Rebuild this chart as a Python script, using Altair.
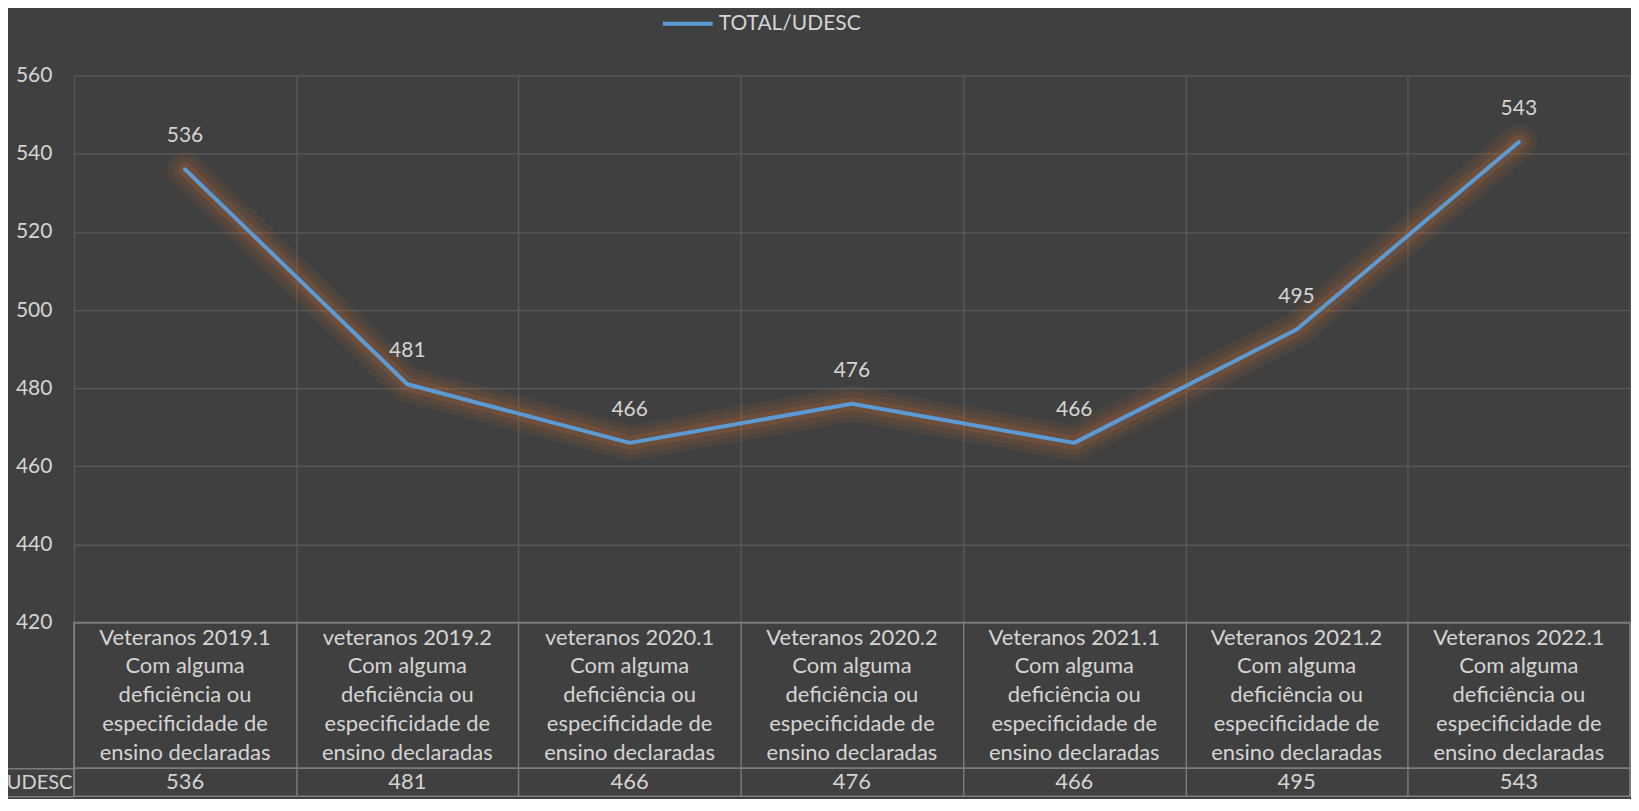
import altair as alt
import pandas as pd

# ---- data ----
categories = [
    "Veteranos 2019.1\nCom alguma\ndeficiência ou\nespecificidade de\nensino declaradas",
    "veteranos 2019.2\nCom alguma\ndeficiência ou\nespecificidade de\nensino declaradas",
    "veteranos 2020.1\nCom alguma\ndeficiência ou\nespecificidade de\nensino declaradas",
    "Veteranos 2020.2\nCom alguma\ndeficiência ou\nespecificidade de\nensino declaradas",
    "Veteranos 2021.1\nCom alguma\ndeficiência ou\nespecificidade de\nensino declaradas",
    "Veteranos 2021.2\nCom alguma\ndeficiência ou\nespecificidade de\nensino declaradas",
    "Veteranos 2022.1\nCom alguma\ndeficiência ou\nespecificidade de\nensino declaradas",
]
values = [536, 481, 466, 476, 466, 495, 543]
series_name = "TOTAL/UDESC"
row_label = "UDESC"
y_ticks = [420, 440, 460, 480, 500, 520, 540, 560]

# ---- style ----
BG = "#404040"
TXT = "#d4d4d4"
GRID = "#585858"
TBL = "#7d7d7d"
LINE = "#5b9bd5"
GLOW = "#ed7d31"
FONT = "Lato"
FS = 21
W = 1559

df = pd.DataFrame({
    "categoria": categories,
    "valor": values,
    "serie": [series_name] * len(values),
    "linha": [row_label] * len(values),
})

def xenc(color):
    return alt.X(
        "categoria:N",
        sort=categories,
        scale=alt.Scale(type="band", domain=categories, paddingInner=0, paddingOuter=0),
        bandPosition=0.5,
        axis=alt.Axis(title=None, labels=False, ticks=False, domain=False, grid=True,
                      tickBand="extent", gridColor=color, gridWidth=1.4,
                      minExtent=0, maxExtent=0, offset=0),
    )

yenc = alt.Y(
    "valor:Q",
    scale=alt.Scale(domain=[420, 560], nice=False, zero=False),
    axis=alt.Axis(values=y_ticks, title=None, domain=False, ticks=False, labelPadding=22,
                  gridColor=GRID, gridWidth=1.3, labelFontSize=FS, labelColor=TXT,
                  labelFont=FONT, minExtent=66),
)

base = alt.Chart(df).encode(x=xenc(GRID), y=yenc)

glow1 = base.mark_line(color=GLOW, strokeWidth=36, opacity=0.07, strokeJoin="round", strokeCap="round")
glow2 = base.mark_line(color=GLOW, strokeWidth=25, opacity=0.09, strokeJoin="round", strokeCap="round")
glow3 = base.mark_line(color=GLOW, strokeWidth=14, opacity=0.13, strokeJoin="round", strokeCap="round")

line = base.mark_line(strokeWidth=4, strokeJoin="round", strokeCap="round").encode(
    color=alt.Color(
        "serie:N",
        scale=alt.Scale(domain=[series_name], range=[LINE]),
        legend=alt.Legend(
            title=None, orient="none", legendX=588, legendY=-79, direction="horizontal",
            symbolType="stroke", symbolSize=2500, symbolStrokeWidth=4,
            labelFontSize=FS, labelColor=TXT, labelFont=FONT, labelOffset=4, padding=0,
        ),
    )
)

labels = base.mark_text(dy=-33, fontSize=FS, color=TXT, font=FONT, baseline="middle").encode(
    text="valor:Q"
)

main = alt.layer(glow1, glow2, glow3, line, labels).properties(
    width=W, height=548, view=alt.ViewBackground(stroke="transparent")
)

header = alt.Chart(df).mark_text(
    fontSize=22, color=TXT, font=FONT, lineBreak="\n", lineHeight=29, baseline="middle", dy=-58
).encode(
    x=xenc(TBL),
    text="categoria:N",
).properties(width=W, height=146, view=alt.ViewBackground(stroke=TBL, strokeWidth=1.6))

valrow = alt.Chart(df).mark_text(fontSize=22, color=TXT, font=FONT, baseline="middle").encode(
    x=xenc(TBL),
    y=alt.Y(
        "linha:N",
        scale=alt.Scale(paddingInner=0, paddingOuter=0),
        axis=alt.Axis(title=None, domain=False, ticks=True, tickBand="extent", tickSize=69,
                      tickColor=TBL, tickWidth=1.6, labelPadding=-67, labelAlign="right",
                      labelFontSize=20, labelColor=TXT, labelFont=FONT, minExtent=66),
    ),
    text="valor:Q",
).properties(width=W, height=28, view=alt.ViewBackground(stroke=TBL, strokeWidth=1.6))

chart = alt.vconcat(main, header, valrow, spacing=0, bounds="flush").properties(
    background=BG,
    padding={"left": -5, "top": -12, "right": 0, "bottom": 0},
).configure(font=FONT).configure_view(stroke="transparent")

chart.save("out.html", embed_options={"renderer": "svg", "actions": False})
